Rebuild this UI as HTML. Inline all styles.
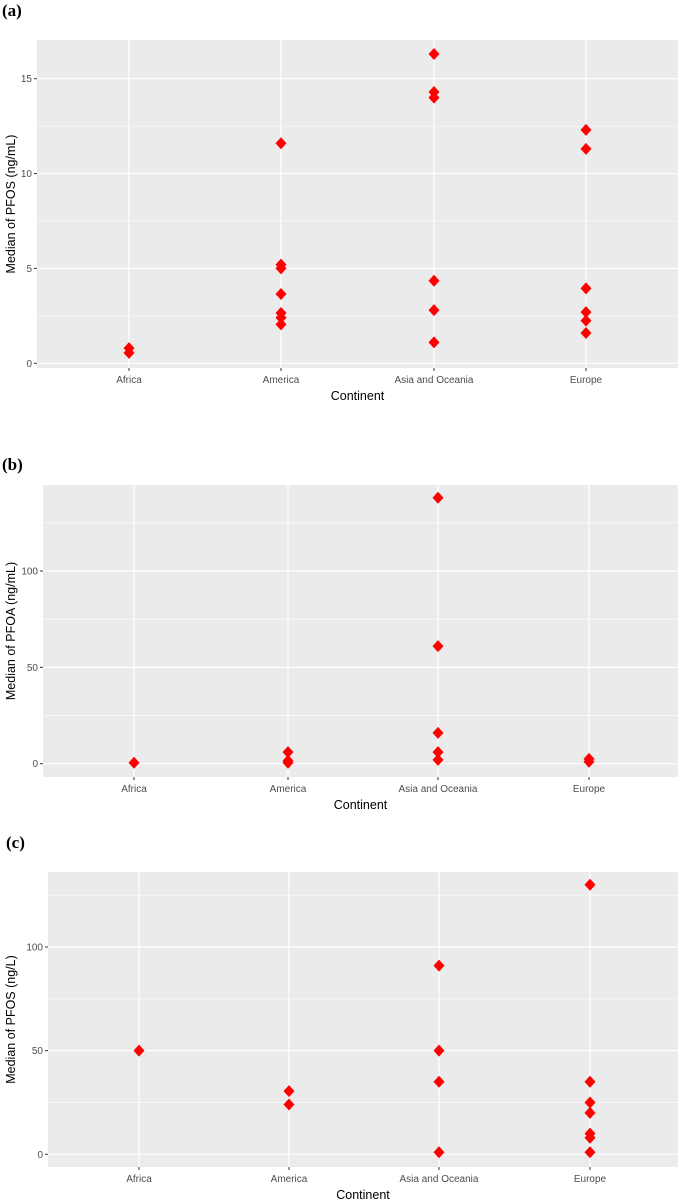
<!DOCTYPE html>
<html><head><meta charset="utf-8">
<style>
html,body{margin:0;padding:0;background:#fff;}
svg{display:block;}
text{font-family:"Liberation Sans",Arial,sans-serif;}
</style></head>
<body>
<svg id="fig" width="685" height="1201" viewBox="0 0 685 1201" xmlns="http://www.w3.org/2000/svg"></svg>
<script>
const categories = ["Africa","America","Asia and Oceania","Europe"];
// panel a: PFOS ng/mL
const aTicks = [0,5,10,15];
const aAfrica = [0.8,0.55];
const aAmerica = [11.6,5.2,5.0,3.65,2.65,2.4,2.05];
const aAsia = [16.3,14.3,14.0,4.35,2.8,1.1];
const aEurope = [12.3,11.3,3.95,2.7,2.25,1.6];
// panel b: PFOA ng/mL
const bTicks = [0,50,100];
const bAfrica = [0.5];
const bAmerica = [6,1.5,0.5];
const bAsia = [138,61,16,6,2];
const bEurope = [2.5,1];
// panel c: PFOS ng/L
const cTicks = [0,50,100];
const cAfrica = [50];
const cAmerica = [30.5,24];
const cAsia = [91,50,35,1];
const cEurope = [130,35,25,20,10,8,1];

const NS="http://www.w3.org/2000/svg";
const svg=document.getElementById('fig');
function mk(tag,attrs,parent){const e=document.createElementNS(NS,tag);for(const k in attrs)e.setAttribute(k,attrs[k]);(parent||svg).appendChild(e);return e;}

function panel(cfg){
  const g=mk('g',{});
  
  
  const L=cfg.left,R=678,T=cfg.top,B=cfg.bottom;
  const y=v=>cfg.y0+(cfg.yTop-cfg.y0)*(v/cfg.tTop);
  const xc=cfg.xs;
  const lab=mk('text',{x:cfg.labX,y:cfg.labY,'font-size':17,'font-weight':'bold',style:'font-family:"Liberation Serif",serif'},g);
  lab.textContent=cfg.label;
  
  
  const bg=mk('rect',{x:L,y:T,width:R-L,height:B-T,fill:'#ebebeb'},g);
  
  
  const step=cfg.ticks[1]-cfg.ticks[0];
  for(let i=0;i<cfg.ticks.length+1;i++){
    const v=cfg.ticks[0]+step*(i+0.5);const yy=y(v);
    if(yy>T&&yy<B) mk('line',{x1:L,x2:R,y1:yy,y2:yy,stroke:'#fff','stroke-width':0.6},g);
  }
  cfg.ticks.forEach(t=>{
    const yy=y(t);
    mk('line',{x1:L,x2:R,y1:yy,y2:yy,stroke:'#fff','stroke-width':1.2},g);
    mk('line',{x1:L-3,x2:L,y1:yy,y2:yy,stroke:'#333','stroke-width':1},g);
    const tx=mk('text',{x:L-5,y:yy+3.5,'font-size':10,fill:'#4d4d4d','text-anchor':'end'},g);
    tx.textContent=t;
    
    
  });
  categories.forEach((c,i)=>{
    mk('line',{x1:xc[i],x2:xc[i],y1:T,y2:B,stroke:'#fff','stroke-width':1.2},g);
    mk('line',{x1:xc[i],x2:xc[i],y1:B,y2:B+3,stroke:'#333','stroke-width':1},g);
    const tx=mk('text',{x:xc[i],y:B+15,'font-size':10,fill:'#4d4d4d','text-anchor':'middle'},g);
    tx.textContent=c;
    
    
  });
  const xt=mk('text',{x:(L+R)/2,y:B+32,'font-size':12.5,fill:'#000','text-anchor':'middle'},g);
  xt.textContent='Continent';
  
  
  const ym=(T+B)/2;
  const yt=mk('text',{x:15,y:ym,'font-size':12.5,fill:'#000','text-anchor':'middle',transform:`rotate(-90 15 ${ym})`},g);
  yt.textContent=cfg.ytitle;
  
  
  cfg.series.forEach((arr,i)=>{
    arr.forEach(v=>{
      const cx=xc[i],cy=y(v);
      const p=mk('polygon',{points:`${cx},${cy-6} ${cx+5.5},${cy} ${cx},${cy+6} ${cx-5.5},${cy}`,fill:'#ff0000'},g);
      
      
    });
  });
}
panel({name:'panel-a-pfos-serum',label:'(a)',labX:2,labY:16,left:37,top:40,bottom:368,y0:363.3,yTop:78.7,tTop:15,ticks:aTicks,
  xs:[129,281,434,586],ytitle:'Median of PFOS (ng/mL)',series:[aAfrica,aAmerica,aAsia,aEurope]});
panel({name:'panel-b-pfoa',label:'(b)',labX:2,labY:470,left:43,top:485,bottom:777,y0:763.7,yTop:571,tTop:100,ticks:bTicks,
  xs:[134,288,438,589],ytitle:'Median of PFOA (ng/mL)',series:[bAfrica,bAmerica,bAsia,bEurope]});
panel({name:'panel-c-pfos-water',label:'(c)',labX:6,labY:848,left:48,top:872,bottom:1167,y0:1154.3,yTop:947,tTop:100,ticks:cTicks,
  xs:[139,289,439,590],ytitle:'Median of PFOS (ng/L)',series:[cAfrica,cAmerica,cAsia,cEurope]});
</script>
</body></html>
